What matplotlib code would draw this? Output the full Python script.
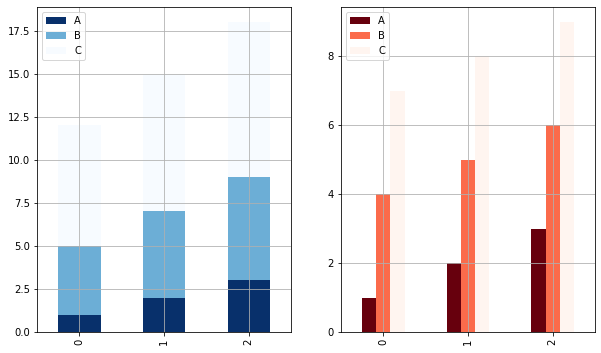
import numpy as np
import matplotlib.pyplot as plt

CATEGORIES = ["0", "1", "2"]
SERIES     = ["A", "B", "C"]
A_VALS     = [1, 2, 3]
B_VALS     = [4, 5, 6]
C_VALS     = [7, 8, 9]


def main():
    values = [A_VALS, B_VALS, C_VALS]
    x = np.arange(len(CATEGORIES))

    fig = plt.figure(figsize=(601 / 72, 353 / 72), dpi=72)
    ax1 = fig.add_axes([0.0616, 0.0595, 0.4226, 0.922])
    ax2 = fig.add_axes([0.5674, 0.0595, 0.4226, 0.922])

    # left: stacked
    blues = plt.get_cmap("Blues_r")(np.linspace(0, 1, len(SERIES)))
    bottom = np.zeros(len(CATEGORIES))
    for name, vals, col in zip(SERIES, values, blues):
        ax1.bar(x, vals, width=0.5, bottom=bottom, color=col, label=name)
        bottom += np.array(vals)

    # right: grouped
    reds = plt.get_cmap("Reds_r")(np.linspace(0, 1, len(SERIES)))
    w = 0.5 / len(SERIES)
    for i, (name, vals, col) in enumerate(zip(SERIES, values, reds)):
        ax2.bar(x + (i - 1) * w, vals, width=w, color=col, label=name)

    for ax in (ax1, ax2):
        ax.set_xticks(x)
        ax.set_xticklabels(CATEGORIES, rotation=90)
        ax.set_xlim(-0.5, len(CATEGORIES) - 0.5)
        ax.grid(True)
        ax.legend(loc="upper left")

    plt.savefig("out.png", dpi=72)


if __name__ == "__main__":
    main()
